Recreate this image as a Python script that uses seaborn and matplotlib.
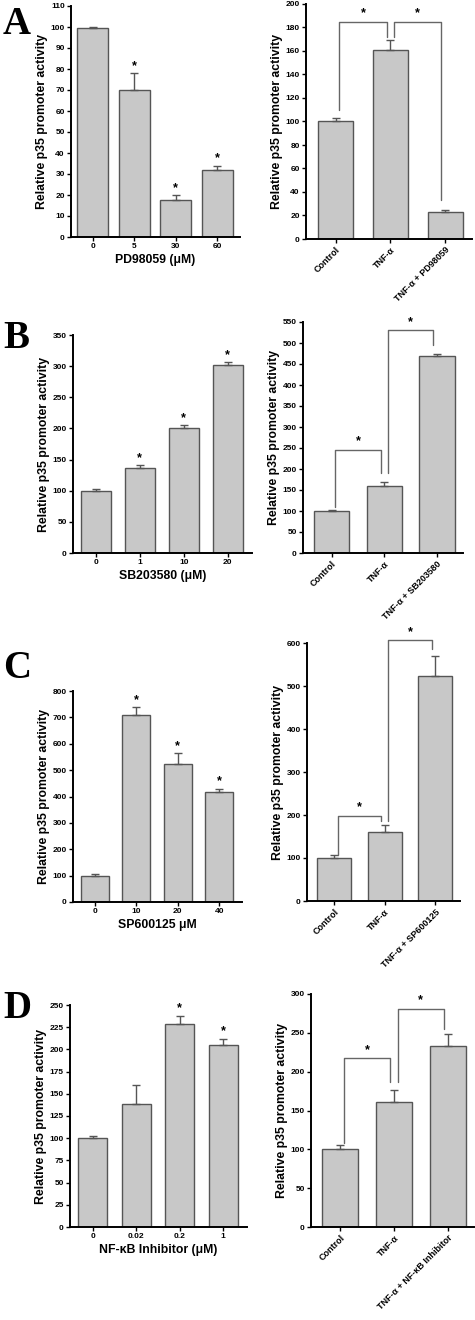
import numpy as np
import pandas as pd
import matplotlib
matplotlib.use("Agg")
import matplotlib.pyplot as plt
import seaborn as sns

sns.set_theme(style="ticks")
plt.rcParams["font.family"] = ["Liberation Sans", "DejaVu Sans"]
plt.rcParams["font.weight"] = "bold"
plt.rcParams["text.color"] = "black"
plt.rcParams["axes.labelcolor"] = "black"
plt.rcParams["xtick.color"] = "black"
plt.rcParams["ytick.color"] = "black"

# ---------------- data ----------------
a_dose_labels = ["0", "5", "30", "60"]
a_dose_vals = [99.5, 70, 17.5, 32]
a_dose_err = [0.5, 8, 2.5, 2]
a_dose_sig = [False, True, True, True]

a_treat_labels = ["Control", "TNF-α", "TNF-α + PD98059"]
a_treat_vals = [100, 161, 23]
a_treat_err = [3, 8, 2]

b_dose_labels = ["0", "1", "10", "20"]
b_dose_vals = [100, 136, 200, 302]
b_dose_err = [2, 5, 5, 4]
b_dose_sig = [False, True, True, True]

b_treat_labels = ["Control", "TNF-α", "TNF-α + SB203580"]
b_treat_vals = [100, 160, 468]
b_treat_err = [3, 9, 6]

c_dose_labels = ["0", "10", "20", "40"]
c_dose_vals = [100, 708, 523, 418]
c_dose_err = [8, 30, 42, 12]
c_dose_sig = [False, True, True, True]

c_treat_labels = ["Control", "TNF-α", "TNF-α + SP600125"]
c_treat_vals = [100, 160, 523]
c_treat_err = [6, 17, 47]

d_dose_labels = ["0", "0.02", "0.2", "1"]
d_dose_vals = [100, 139, 229, 205]
d_dose_err = [3, 21, 9, 7]
d_dose_sig = [False, False, True, True]

d_treat_labels = ["Control", "TNF-α", "TNF-α + NF-κB Inhibitor"]
d_treat_vals = [100, 161, 233]
d_treat_err = [6, 16, 16]

# significance brackets: (i, j, top, left leg bottom, right leg bottom)
a_brackets = [(0, 1, 185, 110, 172), (1, 2, 185, 172, 33)]
b_brackets = [(0, 1, 246, 110, 190), (1, 2, 530, 190, 495)]
c_brackets = [(0, 1, 198, 107, 185), (1, 2, 606, 185, 586)]
d_brackets = [(0, 1, 217, 108, 187), (1, 2, 281, 187, 255)]

ylabel = "Relative p35 promoter activity"

# ---------------- figure ----------------
W, H = 475, 1320
fig = plt.figure(figsize=(W / 100, H / 100), dpi=100)
fig.patch.set_facecolor("white")


def add_ax(x0, x1, ytop, ybot):
    return fig.add_axes([x0 / W, 1 - ybot / H, (x1 - x0) / W, (ybot - ytop) / H])


BAR = "#c8c8c8"
EDGE = "#555555"


def draw_panel(ax, labels, vals, err, ymax, ystep, width, xlim, xlabel=None,
               sig=None, brackets=None, rotate=False):
    df = pd.DataFrame({"cat": labels, "val": vals})
    sns.barplot(data=df, x="cat", y="val", order=labels, color=BAR,
                saturation=1, edgecolor=EDGE, linewidth=1.0, width=width,
                errorbar=None, ax=ax)
    x = np.arange(len(labels))
    ax.errorbar(x, vals, yerr=[np.zeros(len(err)), err], fmt="none",
                ecolor=EDGE, elinewidth=1.0, capsize=3, capthick=1.0, zorder=3)
    ax.set_ylim(0, ymax)
    ax.set_yticks(np.arange(0, ymax + ystep / 2, ystep))
    ax.set_xlim(*xlim)
    for s in ["top", "right"]:
        ax.spines[s].set_visible(False)
    for s in ["left", "bottom"]:
        ax.spines[s].set_linewidth(1.4)
        ax.spines[s].set_color("black")
    ax.tick_params(axis="both", length=3, width=1.0, labelsize=6, pad=1.5,
                   colors="black")
    ax.set_ylabel(ylabel, fontsize=8.8, fontweight="bold", labelpad=1.5,
                  color="black")
    if xlabel:
        ax.set_xlabel(xlabel, fontsize=8.8, fontweight="bold", labelpad=3,
                      color="black")
    else:
        ax.set_xlabel("")
    if rotate:
        ax.set_xticks(x)
        ax.set_xticklabels(labels, rotation=45, ha="right",
                           rotation_mode="anchor", fontsize=6.5, fontweight="bold")
    if sig:
        for xi, v, e, s in zip(x, vals, err, sig):
            if s:
                ax.text(xi, v + e + ymax * 0.005, "*", ha="center", va="bottom",
                        fontsize=9, fontweight="bold")
    if brackets:
        for i, j, top, lb, rb in brackets:
            xl, xr = i + 0.07, j - 0.07
            ax.plot([xl, xl, xr, xr], [lb, top, top, rb], color="#666666",
                    lw=1.0, clip_on=False, zorder=4)
            ax.text((xl + xr) / 2, top + ymax * 0.01, "*", ha="center",
                    va="bottom", fontsize=9, fontweight="bold")


left_xlim = (-0.52, 3.55)
right_xlim = (-0.54, 2.49)

# Panel A
ax = add_ax(71, 240, 6, 237)
draw_panel(ax, a_dose_labels, a_dose_vals, a_dose_err, 110, 10, 0.75, left_xlim,
           xlabel="PD98059 (μM)", sig=a_dose_sig)
ax = add_ax(306, 472, 4, 239)
draw_panel(ax, a_treat_labels, a_treat_vals, a_treat_err, 200, 20, 0.64,
           right_xlim, brackets=a_brackets, rotate=True)

# Panel B
ax = add_ax(73, 252, 335, 553)
draw_panel(ax, b_dose_labels, b_dose_vals, b_dose_err, 350, 50, 0.67, left_xlim,
           xlabel="SB203580 (μM)", sig=b_dose_sig)
ax = add_ax(303, 463, 322, 553)
draw_panel(ax, b_treat_labels, b_treat_vals, b_treat_err, 550, 50, 0.67,
           right_xlim, brackets=b_brackets, rotate=True)

# Panel C
ax = add_ax(73, 242, 691, 902)
draw_panel(ax, c_dose_labels, c_dose_vals, c_dose_err, 800, 100, 0.67, left_xlim,
           xlabel="SP600125 μM", sig=c_dose_sig)
ax = add_ax(307, 460, 643, 901)
draw_panel(ax, c_treat_labels, c_treat_vals, c_treat_err, 600, 100, 0.67,
           right_xlim, brackets=c_brackets, rotate=True)

# Panel D
ax = add_ax(70, 247, 1005, 1227)
draw_panel(ax, d_dose_labels, d_dose_vals, d_dose_err, 250, 25, 0.67, left_xlim,
           xlabel="NF-κB Inhibitor (μM)", sig=d_dose_sig)
ax = add_ax(311, 474, 994, 1227)
draw_panel(ax, d_treat_labels, d_treat_vals, d_treat_err, 300, 50, 0.67,
           right_xlim, brackets=d_brackets, rotate=True)

# Panel letters
for letter, ytop in [("A", 6), ("B", 320), ("C", 650), ("D", 990)]:
    fig.text(3 / W, 1 - ytop / H, letter, ha="left", va="top",
             family=["Liberation Serif", "DejaVu Serif"], fontweight="bold",
             fontsize=28, color="black")

fig.savefig("out.png", dpi=100, facecolor="white")
